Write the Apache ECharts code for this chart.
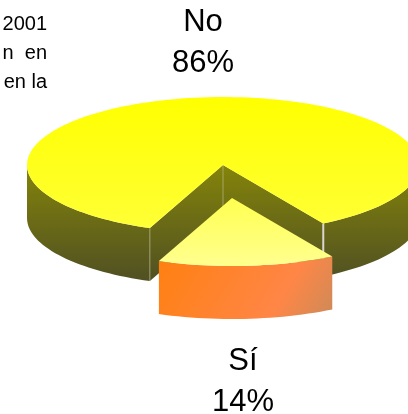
<!DOCTYPE html>
<html><head><meta charset="utf-8">
<style>html,body{margin:0;padding:0;background:#fff}#c{width:408px;height:414px}</style>
<script src="https://cdn.jsdelivr.net/npm/echarts@6/dist/echarts.min.js"></script>
</head><body><div id="c"></div>
<script>
var categories = ['No', 'Sí'];
var values = [86, 14];
var noteLines = ['2001', 'n  en', 'en la'];

var chart = echarts.init(document.getElementById('c'), null, {renderer: 'canvas'});
var G = echarts.graphic.LinearGradient;
var cx = 223, cy = 165, rx = 196, ry = 68, depth = 53;
var startDeg = -21.9;          // front of the pie = 0, increasing towards the right
var frontStretch = 1.045;      // the tilted view widens the slice nearest the viewer
var explode = [9, 33];
var total = values.reduce(function (a, b) { return a + b; }, 0);
var rad = Math.PI / 180;
function pt(deg, ox, oy) {
  return [cx + ox + rx * Math.sin(deg * rad), cy + oy + ry * Math.cos(deg * rad)];
}
function arc(a, b, ox, oy) {
  var n = Math.max(2, Math.ceil(Math.abs(b - a) / 2)), out = [];
  for (var i = 0; i <= n; i++) out.push(pt(a + (b - a) * i / n, ox, oy));
  return out;
}
function poly(points, fill, z) {
  return {type: 'polygon', z2: z || 0, shape: {points: points}, style: {fill: fill, stroke: null}};
}
function seam(p, h, color, w) {
  return {type: 'line', z2: 1, shape: {x1: p[0], y1: p[1], x2: p[0], y2: p[1] + h}, style: {stroke: color, lineWidth: w}};
}
function wall(a, b, ox, oy, fill, z) {
  var top = arc(a, b, ox, oy), bottom = arc(a, b, ox, oy + depth).reverse();
  return poly(top.concat(bottom), fill, z);
}
function quad(p, q, fill) {
  return poly([p, q, [q[0], q[1] + depth], [p[0], p[1] + depth]], fill);
}
var oliveFill = new G(0, 165, 0, 285, [{offset: 0, color: '#84840a'}, {offset: 1, color: '#4e4e24'}], true);
var topFill = new G(0, 97, 0, 233, [{offset: 0, color: '#ffff00'}, {offset: 1, color: '#ffff38'}], true);
var siTopFill = new G(0, 198, 0, 262, [{offset: 0, color: '#ffff50'}, {offset: 1, color: '#ffff8c'}], true);
var siSideFill = new G(170, 245, 320, 335, [{offset: 0, color: '#ff8012'}, {offset: 0.7, color: '#ff8646'}, {offset: 1, color: '#cf8a58'}], true);

function renderItem(params, api) {
  var v = api.value(0);
  var siSpan = values[1] / total * 360 * frontStretch;
  var children = [];
  var label = categories[params.dataIndex] + '\n' + v + '%';
  var textStyle = {text: label, align: 'center', verticalAlign: 'top',
    fontFamily: 'Liberation Sans', fontSize: 31, lineHeight: 41, fill: '#000'};
  if (params.dataIndex === 0) {
    var a = startDeg + siSpan, b = startDeg + 360;
    var apex = [cx, cy], L = pt(b, 0, 0), R = pt(a, 0, 0);
    children.push(wall(-90, b - 360, 0, 0, oliveFill));
    children.push(wall(a, 90, 0, 0, oliveFill));
    children.push(quad(apex, L, oliveFill));
    children.push(quad(apex, R, oliveFill));
    children.push(poly([apex].concat(arc(a, b, 0, 0)), topFill, 2));
    children.push(seam(apex, depth, 'rgba(200,200,170,0.55)', 1));
    children.push(seam(L, depth, 'rgba(200,200,170,0.55)', 1));
    children.push(seam(R, depth, '#d8d8d0', 2));
    children.push({type: 'text', z2: 20, style: Object.assign({x: 203, y: 2}, textStyle)});
  } else {
    var a2 = startDeg, b2 = a2 + siSpan;
    var ox = explode[0], oy = explode[1];
    children.push(wall(a2, b2, ox, oy, siSideFill, 10));
    children.push(poly([[cx + ox, cy + oy]].concat(arc(a2, b2, ox, oy)), siTopFill, 11));
    children.push({type: 'text', z2: 20, style: Object.assign({x: 243, y: 341}, textStyle)});
  }
  return {type: 'group', children: children};
}

chart.setOption({
  animation: false,
  backgroundColor: '#fff',
  graphic: noteLines.map(function (t, i) {
    return {type: 'text', right: 361, top: 14 + i * 29,
      style: {text: t, fontFamily: 'Liberation Sans', fontSize: 20, fill: '#000'}};
  }),
  series: [{
    type: 'custom',
    coordinateSystem: 'none',
    renderItem: renderItem,
    clip: false,
    data: values.map(function (v, i) { return {name: categories[i], value: [v]}; })
  }]
});
</script></body></html>
